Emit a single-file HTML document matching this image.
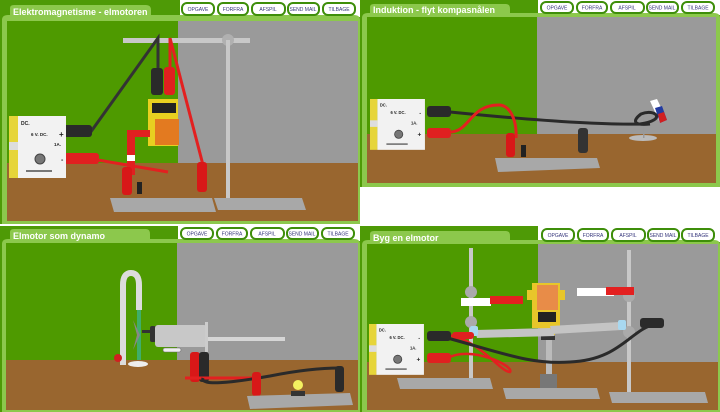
<!DOCTYPE html>
<html><head><meta charset="utf-8"><style>
html,body{margin:0;padding:0;background:#fff;width:720px;height:412px;overflow:hidden}
svg{display:block}
.t{font-family:"Liberation Sans",sans-serif;font-weight:bold;fill:#fff;font-size:9px}
.b{font-family:"Liberation Sans",sans-serif;font-size:5px;fill:#33337a;text-anchor:middle}
.p{font-family:"Liberation Sans",sans-serif;font-weight:bold;fill:#222}
</style></head><body>
<svg width="720" height="412" viewBox="0 0 720 412" xmlns="http://www.w3.org/2000/svg">
<rect width="720" height="412" fill="#fff"/>

<!-- ===== PANEL TL ===== -->
<rect x="0" y="0" width="360" height="224" fill="#4e9a06"/>
<rect x="180" y="0" width="180" height="17" fill="#fff"/>
<path d="M2 224 V20 Q2 15 8 15 H10 V8 Q10 5 14 5 H146 Q151 5 151 10 V15 H354 Q360 15 360 20 V224 Z" fill="#8cc84c"/>
<text class="t" x="13" y="15">Elektromagnetisme - elmotoren</text>
<g>
<rect x="182" y="3" width="32" height="12" rx="5" fill="#fff" stroke="#3e8e0a" stroke-width="2"/><text class="b" x="198" y="11">OPGAVE</text>
<rect x="218" y="3" width="30" height="12" rx="5" fill="#fff" stroke="#3e8e0a" stroke-width="2"/><text class="b" x="233" y="11">FORFRA</text>
<rect x="252" y="3" width="33" height="12" rx="5" fill="#fff" stroke="#3e8e0a" stroke-width="2"/><text class="b" x="268" y="11">AFSPIL</text>
<rect x="288" y="3" width="31" height="12" rx="5" fill="#fff" stroke="#3e8e0a" stroke-width="2"/><text class="b" x="303" y="11">SEND MAIL</text>
<rect x="323" y="3" width="32" height="12" rx="5" fill="#fff" stroke="#3e8e0a" stroke-width="2"/><text class="b" x="339" y="11">TILBAGE</text>
</g>
<rect x="7" y="21" width="171" height="142" fill="#4e9a00"/>
<rect x="178" y="21" width="180" height="142" fill="#9a9a9a"/>
<rect x="7" y="163" width="351" height="58" fill="#99662f"/>
<!-- stand -->
<rect x="123" y="38" width="127" height="5" fill="#c8c8c8"/>
<circle cx="228" cy="40" r="6" fill="#b0b0b0"/>
<rect x="226" y="40" width="4" height="160" fill="#c8c8c8"/>
<polygon points="214,198 302,198 306,210 218,210" fill="#a8a8a8"/>
<polygon points="110,198 212,198 216,212 114,212" fill="#a8a8a8"/>
<!-- motor -->
<rect x="148" y="99" width="30" height="47" fill="#e8d020"/>
<rect x="155" y="119" width="24" height="26" fill="#e37a20"/>
<rect x="152" y="103" width="24" height="10" fill="#222"/>
<!-- wires -->
<path d="M90 133 L158 38 L158 72" stroke="#333" stroke-width="3" fill="none"/>
<rect x="151" y="68" width="12" height="27" rx="3" fill="#2a2a2a"/>
<rect x="63" y="125" width="29" height="12" rx="3" fill="#2a2a2a"/>
<path d="M170 38 L203 165" stroke="#e32020" stroke-width="3" fill="none"/>
<path d="M170 38 L170 70" stroke="#e32020" stroke-width="3" fill="none"/>
<rect x="164" y="67" width="11" height="28" rx="3" fill="#e02020"/>
<path d="M92 159 L168 172" stroke="#e32020" stroke-width="3" fill="none"/>
<rect x="64" y="153" width="35" height="11" rx="3" fill="#e02020"/>
<rect x="197" y="162" width="10" height="30" rx="3" fill="#d81818"/>
<rect x="127" y="130" width="23" height="7" fill="#e02020"/>
<rect x="127" y="130" width="8" height="45" fill="#e02020"/>
<rect x="127" y="155" width="8" height="6" fill="#fff"/>
<rect x="122" y="167" width="10" height="28" rx="3" fill="#d81818"/>
<rect x="137" y="182" width="5" height="12" fill="#222"/>
<!-- PS -->
<g transform="translate(9,116)">
<rect width="9" height="62" fill="#e6d53a"/><rect x="9" width="48" height="62" fill="#f2f2f2"/>
<rect x="0" y="26" width="9" height="8" fill="#ddd"/>
<text class="p" x="12" y="9" font-size="5">DC.</text>
<text class="p" x="22" y="20" font-size="4.5">6 V. DC.</text>
<text class="p" x="50" y="21" font-size="8">+</text>
<text class="p" x="45" y="30" font-size="4.5">1A.</text>
<circle cx="31" cy="43" r="5" fill="#777" stroke="#444"/>
<text class="p" x="52" y="46" font-size="7">-</text>
<rect x="17" y="54" width="26" height="2" fill="#777"/>
</g>

<!-- ===== PANEL TR ===== -->
<rect x="360" y="0" width="360" height="187" fill="#4e9a06"/>
<rect x="538" y="0" width="182" height="15" fill="#fff"/>
<path d="M362 187 V18 Q362 13 368 13 H370 V7 Q370 4 374 4 H506 Q510 4 510 9 V13 H714 Q720 13 720 18 V187 Z" fill="#8cc84c"/>
<text class="t" x="373" y="13">Induktion - flyt kompasnålen</text>
<g>
<rect x="541" y="2" width="32" height="11" rx="5" fill="#fff" stroke="#3e8e0a" stroke-width="2"/><text class="b" x="557" y="9.5">OPGAVE</text>
<rect x="577" y="2" width="30" height="11" rx="5" fill="#fff" stroke="#3e8e0a" stroke-width="2"/><text class="b" x="592" y="9.5">FORFRA</text>
<rect x="611" y="2" width="33" height="11" rx="5" fill="#fff" stroke="#3e8e0a" stroke-width="2"/><text class="b" x="627" y="9.5">AFSPIL</text>
<rect x="647" y="2" width="31" height="11" rx="5" fill="#fff" stroke="#3e8e0a" stroke-width="2"/><text class="b" x="662" y="9.5">SEND MAIL</text>
<rect x="682" y="2" width="32" height="11" rx="5" fill="#fff" stroke="#3e8e0a" stroke-width="2"/><text class="b" x="698" y="9.5">TILBAGE</text>
</g>
<rect x="367" y="17" width="170" height="117" fill="#4e9a00"/>
<rect x="537" y="17" width="179" height="117" fill="#9a9a9a"/>
<rect x="367" y="134" width="349" height="49" fill="#99662f"/>
<polygon points="495,158 597,158 600,168 498,172" fill="#a8a8a8"/>
<ellipse cx="643" cy="138" rx="14" ry="3" fill="#bbb"/>
<rect x="643" y="116" width="1.5" height="22" fill="#999"/>
<polygon points="650,101 657,99 667,120 660,123" fill="#fff"/>
<polygon points="655,108 662,106 667,120 660,123" fill="#223aa0"/>
<polygon points="658,114 664,112 667,120 660,123" fill="#d02020"/>
<path d="M450 112 C530 120 600 125 640 124 C668 120 655 108 641 114 C633 120 632 126 650 124" stroke="#2a2a2a" stroke-width="3" fill="none"/>
<rect x="427" y="106" width="24" height="11" rx="3" fill="#2a2a2a"/>
<rect x="578" y="128" width="10" height="25" rx="3" fill="#333"/>
<path d="M450 132 C470 132 470 104 500 105 C510 106 517 120 516 138" stroke="#e32020" stroke-width="3" fill="none"/>
<rect x="427" y="128" width="24" height="10" rx="3" fill="#e02020"/>
<rect x="506" y="133" width="9" height="24" rx="3" fill="#d81818"/>
<rect x="521" y="145" width="5" height="12" fill="#222"/>
<g transform="translate(370,99) scale(0.82)">
<rect width="9" height="62" fill="#e6d53a"/><rect x="9" width="58" height="62" fill="#f2f2f2"/>
<rect x="0" y="26" width="9" height="8" fill="#ddd"/>
<text class="p" x="12" y="9" font-size="5">DC.</text>
<text class="p" x="25" y="18" font-size="5">6 V. DC.</text>
<text class="p" x="60" y="19" font-size="7">-</text>
<text class="p" x="50" y="31" font-size="5">1A.</text>
<circle cx="35" cy="43" r="5" fill="#777" stroke="#444"/>
<text class="p" x="58" y="46" font-size="8">+</text>
<rect x="20" y="54" width="26" height="2" fill="#777"/>
</g>

<!-- ===== PANEL BL ===== -->
<rect x="0" y="226" width="360" height="186" fill="#4e9a06"/>
<rect x="178" y="226" width="182" height="15" fill="#fff"/>
<path d="M2 412 V244 Q2 239 8 239 H10 V232 Q10 229 14 229 H146 Q150 229 150 234 V239 H354 Q360 239 360 244 V412 Z" fill="#8cc84c"/>
<text class="t" x="13" y="239">Elmotor som dynamo</text>
<g>
<rect x="181" y="228" width="32" height="11" rx="5" fill="#fff" stroke="#3e8e0a" stroke-width="2"/><text class="b" x="197" y="235.5">OPGAVE</text>
<rect x="217" y="228" width="30" height="11" rx="5" fill="#fff" stroke="#3e8e0a" stroke-width="2"/><text class="b" x="232" y="235.5">FORFRA</text>
<rect x="251" y="228" width="33" height="11" rx="5" fill="#fff" stroke="#3e8e0a" stroke-width="2"/><text class="b" x="267" y="235.5">AFSPIL</text>
<rect x="287" y="228" width="31" height="11" rx="5" fill="#fff" stroke="#3e8e0a" stroke-width="2"/><text class="b" x="302" y="235.5">SEND MAIL</text>
<rect x="322" y="228" width="32" height="11" rx="5" fill="#fff" stroke="#3e8e0a" stroke-width="2"/><text class="b" x="338" y="235.5">TILBAGE</text>
</g>
<rect x="6" y="243" width="171" height="117" fill="#4e9a00"/>
<rect x="177" y="243" width="181" height="117" fill="#9a9a9a"/>
<rect x="6" y="360" width="352" height="50" fill="#99662f"/>
<path d="M123 365 V285 Q123 273 131 273 Q139 273 139 285 V310" stroke="#dcdcdc" stroke-width="6" fill="none"/>
<rect x="137" y="310" width="4" height="50" fill="#3fae6a"/>
<ellipse cx="138" cy="364" rx="10" ry="3" fill="#eee"/>
<circle cx="118" cy="358" r="4" fill="#d02020"/>
<polygon points="133,320 140,335 133,350 137,335" fill="#888"/>
<rect x="142" y="330" width="8" height="3" fill="#333"/>
<rect x="150" y="326" width="6" height="16" rx="2" fill="#333"/>
<rect x="155" y="325" width="52" height="22" rx="3" fill="#c8c8c8"/>
<rect x="163" y="348" width="18" height="4" rx="2" fill="#eee" stroke="#666" stroke-width="0.6"/>
<rect x="207" y="337" width="78" height="4" fill="#d6d6d6"/>
<rect x="205" y="322" width="3" height="30" fill="#ccc"/>
<rect x="190" y="352" width="10" height="30" rx="3" fill="#d81818"/>
<rect x="199" y="352" width="10" height="30" rx="3" fill="#2a2a2a"/>
<path d="M185 378 H258 V390" stroke="#e32020" stroke-width="3" fill="none"/>
<path d="M203 378 C200 386 230 383 270 376 C300 370 320 368 340 368" stroke="#2a2a2a" stroke-width="3" fill="none"/>
<rect x="252" y="372" width="9" height="24" rx="3" fill="#d81818"/>
<rect x="335" y="366" width="9" height="26" rx="3" fill="#2a2a2a"/>
<polygon points="247,396 350,393 353,405 250,409" fill="#a8a8a8"/>
<circle cx="298" cy="385" r="5" fill="#f4f060"/>
<rect x="291" y="391" width="14" height="5" fill="#333"/>

<!-- ===== PANEL BR ===== -->
<rect x="360" y="226" width="360" height="186" fill="#4e9a06"/>
<rect x="538" y="226" width="182" height="16" fill="#fff"/>
<path d="M362 412 V245 Q362 240 368 240 H370 V234 Q370 231 374 231 H506 Q510 231 510 236 V240 H714 Q720 240 720 245 V412 Z" fill="#8cc84c"/>
<text class="t" x="373" y="241">Byg en elmotor</text>
<g>
<rect x="542" y="229" width="32" height="12" rx="5" fill="#fff" stroke="#3e8e0a" stroke-width="2"/><text class="b" x="558" y="237">OPGAVE</text>
<rect x="578" y="229" width="30" height="12" rx="5" fill="#fff" stroke="#3e8e0a" stroke-width="2"/><text class="b" x="593" y="237">FORFRA</text>
<rect x="612" y="229" width="33" height="12" rx="5" fill="#fff" stroke="#3e8e0a" stroke-width="2"/><text class="b" x="628" y="237">AFSPIL</text>
<rect x="648" y="229" width="31" height="12" rx="5" fill="#fff" stroke="#3e8e0a" stroke-width="2"/><text class="b" x="663" y="237">SEND MAIL</text>
<rect x="682" y="229" width="32" height="12" rx="5" fill="#fff" stroke="#3e8e0a" stroke-width="2"/><text class="b" x="698" y="237">TILBAGE</text>
</g>
<rect x="367" y="244" width="171" height="118" fill="#4e9a00"/>
<rect x="538" y="244" width="180" height="118" fill="#9a9a9a"/>
<rect x="367" y="362" width="351" height="48" fill="#99662f"/>
<!-- stands -->
<rect x="469" y="248" width="4" height="138" fill="#c8c8c8"/>
<polygon points="397,378 490,378 493,389 400,389" fill="#a8a8a8"/>
<rect x="627" y="250" width="4" height="143" fill="#c8c8c8"/>
<polygon points="609,392 705,392 708,403 612,403" fill="#a8a8a8"/>
<rect x="546" y="318" width="6" height="60" fill="#bbb"/>
<rect x="540" y="374" width="17" height="14" fill="#777"/>
<polygon points="503,388 597,388 600,399 506,399" fill="#a8a8a8"/>
<circle cx="471" cy="292" r="6" fill="#aaa"/><circle cx="471" cy="322" r="6" fill="#aaa"/>
<circle cx="629" cy="296" r="6" fill="#aaa"/><circle cx="629" cy="332" r="6" fill="#aaa"/>
<rect x="461" y="298" width="30" height="8" fill="#fff"/><rect x="490" y="296" width="33" height="8" fill="#e32020"/>
<rect x="577" y="288" width="37" height="8" fill="#fff"/><rect x="606" y="287" width="28" height="8" fill="#e32020"/>
<!-- motor -->
<rect x="532" y="283" width="28" height="45" fill="#e8c62a"/>
<rect x="527" y="290" width="7" height="10" fill="#e8c62a"/><rect x="558" y="290" width="7" height="10" fill="#e8c62a"/>
<rect x="537" y="285" width="21" height="25" fill="#e88c48"/>
<rect x="538" y="312" width="18" height="10" fill="#222"/>
<rect x="540" y="328" width="15" height="7" fill="#e8c62a"/>
<rect x="541" y="335" width="14" height="5" fill="#333"/>
<!-- arms -->
<polygon points="475,330 550,328 555,336 477,338" fill="#c4c4c4"/>
<polygon points="550,326 620,322 622,330 552,334" fill="#c4c4c4"/>
<rect x="470" y="326" width="8" height="10" rx="2" fill="#a8d8f0"/>
<rect x="618" y="320" width="8" height="10" rx="2" fill="#a8d8f0"/>
<!-- wires -->
<path d="M448 335 C480 340 500 372 510 372 C515 366 470 345 448 358" stroke="#e32020" stroke-width="2.5" fill="none"/>
<rect x="452" y="332" width="22" height="7" rx="3" fill="#e02020"/>
<path d="M440 336 C500 352 530 365 570 362 C620 360 630 330 655 324" stroke="#2a2a2a" stroke-width="3" fill="none"/>
<rect x="427" y="331" width="24" height="10" rx="3" fill="#2a2a2a"/>
<rect x="640" y="318" width="24" height="10" rx="3" fill="#2a2a2a"/>
<rect x="427" y="353" width="24" height="10" rx="3" fill="#e02020"/>
<g transform="translate(369,324) scale(0.82)">
<rect width="9" height="62" fill="#e6d53a"/><rect x="9" width="58" height="62" fill="#f2f2f2"/>
<rect x="0" y="26" width="9" height="8" fill="#ddd"/>
<text class="p" x="12" y="9" font-size="5">DC.</text>
<text class="p" x="25" y="18" font-size="5">6 V. DC.</text>
<text class="p" x="60" y="19" font-size="7">-</text>
<text class="p" x="50" y="31" font-size="5">1A.</text>
<circle cx="35" cy="43" r="5" fill="#777" stroke="#444"/>
<text class="p" x="58" y="46" font-size="8">+</text>
<rect x="20" y="54" width="26" height="2" fill="#777"/>
</g>
</svg>
</body></html>
